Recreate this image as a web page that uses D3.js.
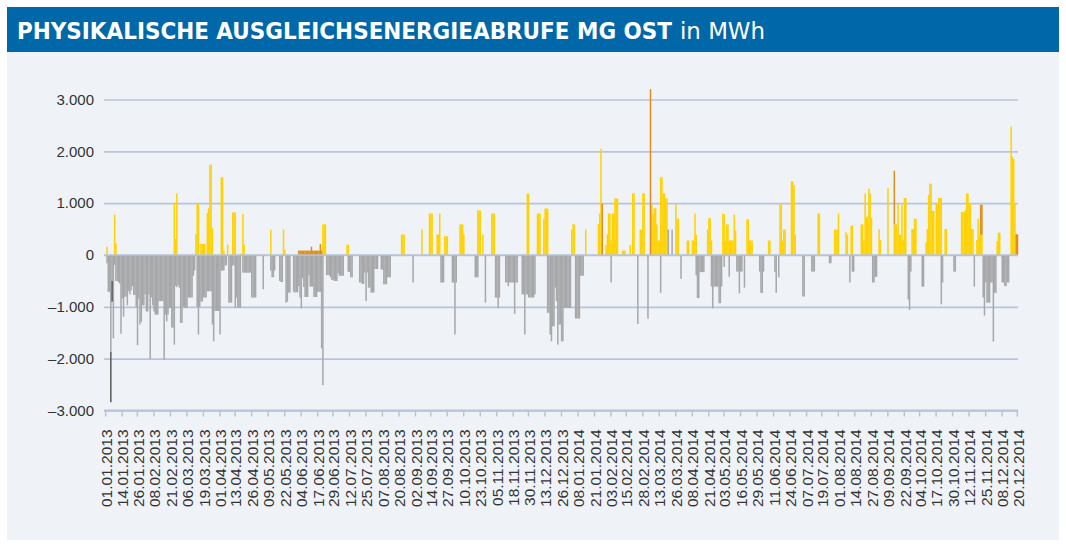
<!DOCTYPE html>
<html>
<head>
<meta charset="utf-8">
<script src="https://cdn.jsdelivr.net/npm/d3@7"></script>
<style>
  body { margin: 0; background: #fff; }
  svg { display: block; }
  .tick text { font-family: "Liberation Sans", Arial, sans-serif; fill: #333; }
</style>
</head>
<body>
<svg width="1066" height="547"></svg>
<script>
// Tageswerte 01.01.2013 - 20.12.2014 (MWh)
// gelbe Balken
const gelb2013 = [
  /* Jan */ 0,160,0,0,0,0,0,780,230,0,0,0,0,0,0,0,0,0,0,0,0,0,0,0,0,0,0,0,0,0,0,
  /* Feb */ 0,0,0,0,0,0,0,0,0,0,0,0,0,0,0,0,0,0,0,0,0,0,0,990,310,1190,0,0,
  /* Mär */ 0,0,0,0,0,0,0,0,0,0,0,0,400,980,980,0,215,215,215,215,0,810,900,1740,1740,520,0,0,0,0,0,
  /* Apr */ 0,1500,1500,85,0,0,200,0,0,0,820,820,820,0,0,0,30,0,790,200,0,0,0,0,0,0,0,0,0,0,
  /* Mai */ 0,0,0,0,0,0,0,0,0,0,490,0,0,0,0,0,0,0,0,0,490,100,0,0,0,0,0,0,0,0,0,
  /* Jun */ 0,0,0,0,0,0,0,0,0,0,0,0,0,0,0,0,0,0,0,0,590,590,590,0,0,0,0,0,0,0,
  /* Jul */ 0,0,0,0,0,0,0,0,0,200,200,0,0,0,0,0,0,0,0,0,0,0,0,0,0,0,0,0,0,0,0,
  /* Aug */ 0,0,0,0,0,0,0,0,0,0,0,0,0,0,0,0,0,0,0,0,0,395,395,395,0,0,0,0,0,0,0,
  /* Sep */ 0,0,0,0,0,0,490,0,0,0,0,0,800,800,800,0,0,0,395,395,800,0,0,0,360,360,360,0,0,0,
  /* Okt */ 0,0,0,0,0,0,590,590,590,395,0,0,0,0,0,0,0,0,0,0,860,860,860,0,395,0,0,0,0,0,0,
  /* Nov */ 800,800,800,0,0,0,0,0,0,0,0,0,0,0,0,0,0,0,0,0,0,0,0,0,0,0,0,0,1185,1185,
  /* Dez */ 0,0,0,0,0,0,800,800,800,0,0,700,895,895,895,0,0,0,0,0,0,0,0,0,0,0,0,0,0,0,0
];
const gelb2014 = [
  /* Jan */ 0,0,490,590,590,0,0,0,0,0,0,0,0,490,0,0,0,0,0,0,0,0,0,600,800,2050,0,0,0,195,395,
  /* Feb */ 800,800,280,800,800,1090,1090,1090,0,0,0,85,85,85,0,0,0,195,0,1190,1190,0,0,0,0,490,490,1190,
  /* Mär */ 1190,0,0,0,0,0,980,800,900,900,590,280,280,1500,1500,1190,1190,1090,1090,0,0,0,0,0,0,980,700,700,0,0,0,
  /* Apr */ 0,0,0,280,280,0,0,280,280,800,390,0,0,0,0,0,0,0,0,490,710,710,280,0,0,0,0,0,0,0,
  /* Mai */ 0,790,790,280,590,590,280,280,280,280,780,470,0,0,0,0,0,0,0,0,690,690,280,280,280,0,0,0,0,0,0,
  /* Jun */ 0,0,0,0,0,0,280,280,0,0,0,0,0,0,0,980,980,280,490,490,0,0,0,0,1420,1420,1350,395,0,0,
  /* Jul */ 0,0,0,0,0,0,0,0,0,0,0,0,0,0,0,800,800,0,0,0,0,0,0,0,0,0,0,0,490,490,490,
  /* Aug */ 800,0,0,0,0,0,440,390,0,0,560,570,0,0,0,0,0,0,590,590,280,1185,740,740,1280,1185,720,0,0,0,0,
  /* Sep */ 0,500,290,0,0,0,0,0,1290,0,0,0,0,590,590,590,1000,390,390,970,290,1100,1100,0,0,0,0,500,500,700,
  /* Okt */ 700,0,0,0,0,0,0,0,245,500,1160,1375,1375,850,850,0,1000,1000,1100,1100,1100,0,0,500,500,0,0,0,0,0,0,
  /* Nov */ 0,0,0,0,0,830,830,830,870,1190,1190,1000,1000,500,500,0,0,290,700,390,390,390,0,0,0,0,0,0,0,0,
  /* Dez */ 0,0,0,270,430,430,0,0,0,0,0,0,0,0,2480,1900,1850,990,0,0
];
// graue Balken
const grau2013 = [
  /* Jan */ 0,-160,-710,-710,-1870,-500,-1610,-190,-500,-500,-520,-550,-1520,-840,-1190,-810,-800,-970,-700,-760,-680,-600,-770,-770,-1000,-1740,-840,-1340,-1290,-970,-970,
  /* Feb */ -760,-1090,-1090,-760,-2000,-820,-970,-1090,-1150,-1150,-1150,-890,-890,-890,-890,-2020,-1150,-1280,-1150,-1020,-1020,-1400,-1400,-1730,-600,-620,-580,-630,
  /* Mär */ -1310,-1310,-1000,-1020,-1020,-1020,-820,-820,-820,-820,-400,-300,0,-1000,-1535,-1000,-900,-900,-820,-820,-820,-700,-700,-700,-700,-1340,-1665,-1080,-1080,-1080,-1080,
  /* Apr */ -1535,-300,-300,-300,-200,-200,0,-920,-920,-920,-200,-200,-1020,-820,-1020,-1020,-1020,0,-340,-340,-340,-340,-340,-340,-340,-820,-820,-820,-820,0,
  /* Mai */ 0,0,0,0,-660,0,0,0,0,0,-300,-430,-430,-300,0,0,0,-500,-520,-520,0,0,-920,-900,-725,-725,0,0,-710,-725,-710,
  /* Jun */ -725,-600,-820,-1030,-450,-620,-810,-810,-810,-390,-610,-610,-610,-810,-810,-810,-710,-710,-710,-1800,-2510,0,0,-390,-390,-390,-430,-480,-480,-500,
  /* Jul */ -500,-500,-350,-400,-400,-400,-400,0,0,0,-325,-325,-430,-430,0,0,0,0,0,-530,-530,-560,-560,-340,-890,-340,-630,-630,-725,-725,-725,
  /* Aug */ -270,-270,-270,0,0,-280,-280,-565,-565,-565,-430,-430,-430,0,0,0,0,0,0,0,0,0,0,0,0,0,0,0,0,0,-530,
  /* Sep */ 0,0,0,0,0,0,0,0,0,0,0,0,0,0,0,0,0,0,0,0,0,-530,-530,-530,0,0,0,0,0,0,
  /* Okt */ -530,-530,-1535,-530,0,0,0,0,0,0,0,0,0,0,0,0,0,0,-430,-430,-430,0,0,0,0,0,-920,0,0,0,0,
  /* Nov */ 0,0,0,-820,-820,-1020,-820,0,0,0,0,-530,-530,-600,-530,-530,-530,-530,-1135,-530,-530,0,0,0,-760,-760,-1535,-760,-760,-820,
  /* Dez */ -820,-820,-820,-820,-760,0,0,0,0,0,0,0,0,0,-1115,-1115,-1535,-1665,-1375,-1375,-630,-890,-1730,-1340,-1340,-1665,-1665,-1020,-1020,-1020,-1020
];
const grau2014 = [
  /* Jan */ -1020,-1020,0,0,0,-1225,-1225,-1225,-1225,-400,-400,-400,0,0,0,0,0,0,0,0,0,0,0,0,0,0,0,0,0,0,0,
  /* Feb */ 0,0,-530,0,0,0,0,0,0,0,0,0,0,0,0,0,0,0,0,0,0,0,0,-1330,0,0,0,0,
  /* Mär */ 0,0,0,-1230,0,0,0,0,0,0,0,0,0,-730,0,0,0,0,0,490,0,0,490,0,0,0,0,0,0,-460,0,
  /* Apr */ 0,0,0,0,0,0,0,0,0,0,-390,-830,-830,-330,-330,-330,-330,0,0,0,0,0,-610,-1030,-610,-610,-610,-610,-930,-930,
  /* Mai */ -610,0,-230,0,0,0,-420,0,0,0,0,0,-320,-320,-740,-320,-320,0,-630,0,0,0,0,0,0,0,0,0,0,0,-320,
  /* Jun */ -730,-730,-320,0,0,0,0,0,0,0,0,-330,-730,0,-430,0,0,0,0,0,0,0,0,0,0,0,0,0,0,0,
  /* Jul */ 0,0,0,-800,-800,0,0,0,0,0,-320,-320,-320,0,0,0,0,0,0,0,0,0,0,0,-160,-160,0,0,0,0,0,
  /* Aug */ 0,0,0,0,0,0,0,0,0,-530,0,-320,-320,0,0,0,0,0,0,0,0,0,0,0,0,0,0,-530,-530,-420,-420,
  /* Sep */ 0,0,0,0,0,0,0,0,0,0,0,0,0,0,0,0,0,0,0,0,0,0,0,0,-860,-1060,-320,0,0,0,
  /* Okt */ 0,0,0,0,0,-610,-610,0,0,0,0,0,0,0,0,0,0,0,0,0,-950,-530,0,0,0,0,0,0,0,0,-320,
  /* Nov */ -320,0,0,0,0,0,0,0,0,0,0,0,0,0,0,-610,0,0,0,0,0,0,-820,-1170,-530,-920,-920,-920,-530,-530,
  /* Dez */ -1670,-730,-730,0,0,0,0,-530,-530,-600,-600,-530,-530,0,0,0,0,0,0,0
];
// orange Balken (einzelne Tage)
const orangeTage = [
  ["02.06.2013", 85], ["03.06.2013", 85], ["04.06.2013", 85], ["05.06.2013", 85], ["06.06.2013", 85],
  ["07.06.2013", 85], ["08.06.2013", 85], ["09.06.2013", 85], ["10.06.2013", 85], ["11.06.2013", 85],
  ["12.06.2013", 160], ["13.06.2013", 85], ["14.06.2013", 85], ["15.06.2013", 85], ["16.06.2013", 85],
  ["17.06.2013", 85], ["18.06.2013", 85], ["19.06.2013", 210], ["20.06.2013", 85],
  ["27.01.2014", 990], ["06.03.2014", 3200], ["14.09.2014", 1035],
  ["21.11.2014", 580], ["22.11.2014", 580], ["19.12.2014", 400], ["20.12.2014", 400]
];
// dunkelgraue Balken
const dunkelTage = [["05.01.2013", -970], ["06.01.2013", -400]];

const achsenDaten = [
  "01.01.2013","14.01.2013","26.01.2013","08.02.2013","21.02.2013","06.03.2013","19.03.2013","01.04.2013",
  "13.04.2013","26.04.2013","09.05.2013","22.05.2013","04.06.2013","17.06.2013","29.06.2013","12.07.2013",
  "25.07.2013","07.08.2013","20.08.2013","02.09.2013","14.09.2013","27.09.2013","10.10.2013","23.10.2013",
  "05.11.2013","18.11.2013","30.11.2013","13.12.2013","26.12.2013","08.01.2014","21.01.2014","03.02.2014",
  "15.02.2014","28.02.2014","13.03.2014","26.03.2014","08.04.2014","21.04.2014","03.05.2014","16.05.2014",
  "29.05.2014","11.06.2014","24.06.2014","07.07.2014","19.07.2014","01.08.2014","14.08.2014","27.08.2014",
  "09.09.2014","22.09.2014","04.10.2014","17.10.2014","30.10.2014","12.11.2014","25.11.2014","08.12.2014",
  "20.12.2014"
];
const yWerte = [-3000, -2000, -1000, 0, 1000, 2000, 3000];

const farben = { gelb: "#ffd200", grau: "#a7a8aa", orange: "#e08e1b", dunkel: "#5a5a5a" };

const svg = d3.select("svg");
const fmt = d3.timeFormat("%d.%m.%Y");
const de = d3.formatLocale({ decimal: ",", thousands: ".", grouping: [3], currency: ["", " €"], minus: "\u2013" });

const tage = d3.timeDay.range(new Date(2013, 0, 1), new Date(2014, 11, 21)).map(fmt);
const gelb = gelb2013.concat(gelb2014);
const grau = grau2013.concat(grau2014);
const orange = new Map(orangeTage);
const dunkel = new Map(dunkelTage);

const rows = tage.map((t, i) => ({
  datum: t,
  gelb: gelb[i] || 0,
  grau: grau[i] || 0,
  orange: orange.get(t) || 0,
  dunkel: dunkel.get(t) || 0
}));

// Rahmen + Titel
svg.append("rect").attr("x", 7).attr("y", 52).attr("width", 1052).attr("height", 488).attr("fill", "#eff3f8");
svg.append("rect").attr("x", 7).attr("y", 7).attr("width", 1052).attr("height", 45).attr("fill", "#0068a8");
svg.append("text")
  .attr("x", 17).attr("y", 39)
  .attr("textLength", 655).attr("lengthAdjust", "spacingAndGlyphs")
  .style("font-family", "'Liberation Sans Narrow', 'DejaVu Sans Condensed', 'Liberation Sans', sans-serif")
  .style("font-weight", "bold").style("font-size", "23px").attr("fill", "#fff")
  .text("PHYSIKALISCHE AUSGLEICHSENERGIEABRUFE MG OST");
svg.append("text")
  .attr("x", 680).attr("y", 39)
  .attr("textLength", 85).attr("lengthAdjust", "spacingAndGlyphs")
  .style("font-family", "'Liberation Sans Narrow', 'DejaVu Sans Condensed', 'Liberation Sans', sans-serif")
  .style("font-size", "23px").attr("fill", "#fff")
  .text("in MWh");

const x = d3.scaleBand().domain(tage).range([105, 1018]).padding(0);
const y = d3.scaleLinear().domain([-3000, 3000]).range([410.5, 99.5]);

// Gitternetz
svg.append("g")
  .attr("transform", "translate(104,0)")
  .call(d3.axisLeft(y).tickValues(yWerte).tickSize(-914).tickFormat(""))
  .call(g => g.select(".domain").remove())
  .call(g => g.selectAll("line").attr("stroke", "#b9c4d8").attr("stroke-width", 1.6));

// y-Beschriftung
svg.append("g")
  .attr("transform", "translate(94,0)")
  .call(d3.axisLeft(y).tickValues(yWerte).tickSize(0).tickPadding(0).tickFormat(de.format(",")))
  .call(g => g.select(".domain").remove())
  .call(g => g.selectAll("text").style("font-size", "15px").attr("fill", "#333"));

// Balken (gestapelt)
const keys = ["gelb", "grau", "orange", "dunkel"];
const stack = d3.stack().keys(keys).offset(d3.stackOffsetDiverging)(rows);

svg.append("g").selectAll("g")
  .data(stack)
  .join("g")
  .attr("fill", s => farben[s.key])
  .selectAll("rect")
  .data(s => s.filter(d => d[0] !== d[1]))
  .join("rect")
  .attr("x", d => x(d.data.datum))
  .attr("width", x.bandwidth() + 0.25)
  .attr("y", d => y(Math.max(d[0], d[1])))
  .attr("height", d => Math.abs(y(d[0]) - y(d[1])));

// Nulllinie
svg.append("line")
  .attr("x1", 104).attr("x2", 1018)
  .attr("y1", y(0)).attr("y2", y(0))
  .attr("stroke", "#b9c4d8").attr("stroke-width", 1.6);

// x-Achse
svg.append("g")
  .attr("transform", "translate(0," + y(-3000) + ")")
  .call(d3.axisBottom(x).tickValues(achsenDaten).tickSize(6).tickSizeOuter(0))
  .call(g => g.select(".domain").attr("stroke", "#b9c4d8").attr("stroke-width", 2).attr("d", "M104,0H1018"))
  .call(g => g.selectAll("line").attr("stroke", "#b9c4d8").attr("stroke-width", 1.5))
  .call(g => g.selectAll("text")
    .attr("transform", "rotate(-90)")
    .attr("text-anchor", "end")
    .attr("x", -19)
    .attr("y", 0)
    .attr("dy", "0.4em")
    .style("font-size", "15.5px")
    .attr("fill", "#333"));
</script>
</body>
</html>
